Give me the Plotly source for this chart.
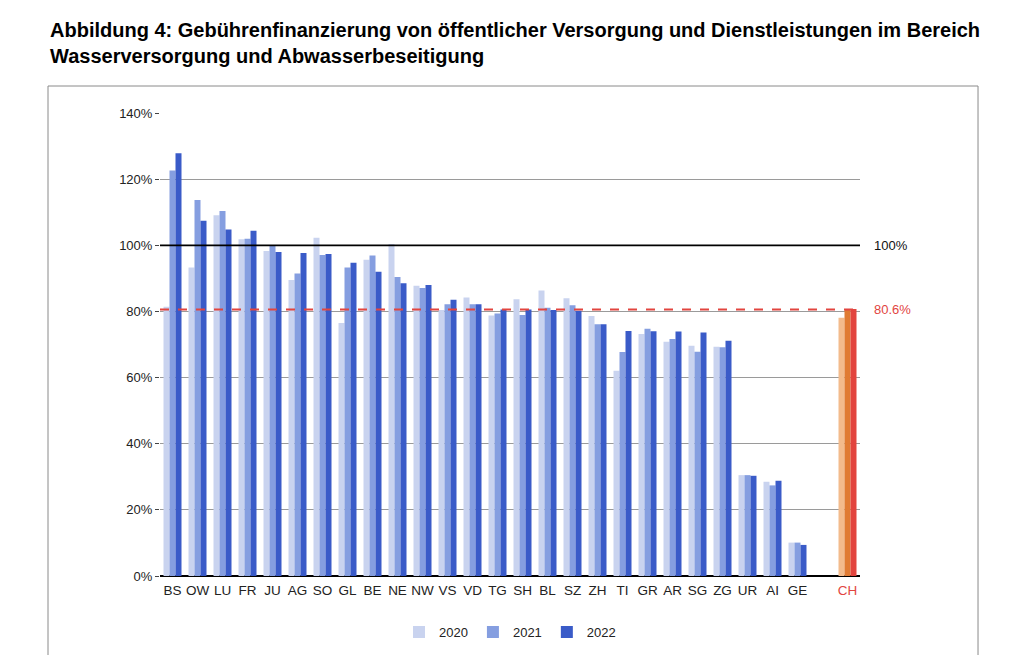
import plotly.graph_objects as go

cantons = ["BS", "OW", "LU", "FR", "JU", "AG", "SO", "GL", "BE", "NE", "NW", "VS", "VD",
           "TG", "SH", "BL", "SZ", "ZH", "TI", "GR", "AR", "SG", "ZG", "UR", "AI", "GE"]
total_label = "CH"

v2020 = [81.4, 93.3, 109.1, 101.8, 98.3, 89.5, 102.3, 76.5, 95.6, 100.4, 87.8, 80.4, 84.2,
         78.8, 83.7, 86.3, 84.0, 78.6, 62.1, 73.2, 70.8, 69.6, 69.3, 30.5, 28.5, 10.1]
v2021 = [122.6, 113.7, 110.4, 102.0, 100.0, 91.5, 97.1, 93.3, 96.9, 90.4, 87.1, 82.2, 82.2,
         79.4, 78.9, 81.1, 81.9, 76.1, 67.7, 74.8, 71.7, 67.8, 69.2, 30.5, 27.4, 10.1]
v2022 = [127.8, 107.4, 104.8, 104.4, 98.0, 97.7, 97.4, 94.7, 92.0, 88.5, 88.0, 83.5, 82.2,
         80.6, 80.6, 80.4, 80.2, 76.1, 74.1, 74.0, 73.9, 73.6, 71.1, 30.3, 28.8, 9.4]
ch_values = [78.1, 80.7, 80.7]  # 2020, 2021, 2022
years = ["2020", "2021", "2022"]
ch_average = 80.6
reference_line = 100

blue_colors = ["#c9d3ef", "#859ee0", "#3a5bc8"]
ch_colors = ["#f3bb8c", "#e07b33", "#e2453f"]

# positions: one empty slot between cantons and CH
xpos = list(range(len(cantons))) + [len(cantons) + 1]
ticktext = cantons + ["<span style='color:#e2453f'>" + total_label + "</span>"]

fig = go.Figure()
for i, (yr, vals) in enumerate(zip(years, [v2020, v2021, v2022])):
    fig.add_trace(go.Bar(
        x=xpos, y=vals + [ch_values[i]], name=yr,
        marker=dict(color=[blue_colors[i]] * len(cantons) + [ch_colors[i]], line=dict(width=0)),
    ))

fig.update_layout(
    width=1008, height=647,
    paper_bgcolor="white", plot_bgcolor="white",
    margin=dict(l=152, r=156, t=105, b=79, autoexpand=False),
    barmode="group", bargap=0.28, bargroupgap=0,
    font=dict(family="Liberation Sans, Arial, sans-serif", size=13, color="#222"),
    showlegend=True,
    legend=dict(orientation="h", x=0.5, xanchor="center", y=-0.121, yanchor="middle",
                font=dict(size=13, color="#222"), itemwidth=30, traceorder="normal"),
)

fig.update_xaxes(
    range=[-0.5, len(cantons) + 1.5],
    tickmode="array", tickvals=xpos, ticktext=ticktext,
    showgrid=False, zeroline=False, showline=False, ticks="",
    ticklabelstandoff=4,
    tickfont=dict(size=13.5, color="#222"),
)
fig.update_yaxes(
    range=[0, 140], dtick=20, ticksuffix="%",
    showgrid=True, gridcolor="#9a9a9a", gridwidth=1,
    zeroline=True, zerolinecolor="#000", zerolinewidth=1.5,
    ticks="outside", ticklen=4, tickcolor="#444",
    tickfont=dict(size=13, color="#222"),
)

# frame box
fig.add_shape(type="rect", xref="paper", yref="paper",
              x0=-0.16, x1=1.1686, y0=-0.25, y1=1.0583,
              line=dict(color="#8a8a8a", width=1), fillcolor="rgba(0,0,0,0)", layer="below")

# 100% line
fig.add_shape(type="line", xref="paper", yref="y", x0=0, x1=1, y0=reference_line, y1=reference_line,
              line=dict(color="#000", width=1.8))
fig.add_annotation(xref="paper", yref="y", x=1.017, y=reference_line, text=f"{reference_line}%",
                   showarrow=False, xanchor="left", font=dict(size=13, color="#111"))

# CH average line
fig.add_shape(type="line", xref="paper", yref="y", x0=0, x1=1, y0=ch_average, y1=ch_average,
              line=dict(color="#e2453f", width=2, dash="dash"))
fig.add_annotation(xref="paper", yref="y", x=1.017, y=ch_average, text=f"{ch_average}%",
                   showarrow=False, xanchor="left", font=dict(size=13, color="#e2453f"))

# title
fig.add_annotation(
    xref="paper", yref="paper", x=-0.16, y=(576 - 17) / 463, xanchor="left", yanchor="top",
    align="left", showarrow=False,
    text="<b>Abbildung 4: Gebührenfinanzierung von öffentlicher Versorgung und Dienstleistungen im Bereich<br>Wasserversorgung und Abwasserbeseitigung</b>",
    font=dict(family="Liberation Sans, Arial, sans-serif", size=20, color="#000"),
)

fig.write_html("out.html")
